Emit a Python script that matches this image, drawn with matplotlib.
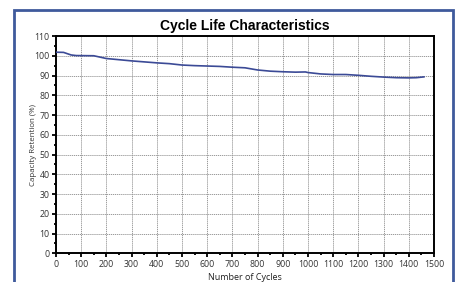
import matplotlib
matplotlib.use("Agg")
import matplotlib.pyplot as plt
from matplotlib.patches import Rectangle
from matplotlib.ticker import MultipleLocator

cycles = [0, 30, 60, 80, 150, 200, 250, 300, 350, 400, 450, 500, 550, 600, 650,
          700, 750, 800, 850, 900, 950, 990, 1000, 1050, 1100, 1150, 1200, 1250,
          1300, 1350, 1400, 1430, 1460]
retention = [101.8, 101.7, 100.4, 100.1, 100.0, 98.6, 98.0, 97.4, 96.9, 96.4, 96.0,
             95.3, 95.0, 94.8, 94.6, 94.2, 93.9, 92.8, 92.2, 91.9, 91.7, 91.8, 91.5,
             90.8, 90.5, 90.5, 90.1, 89.6, 89.2, 88.9, 88.8, 88.9, 89.3]
x_ticks = list(range(0, 1501, 100))
y_ticks = list(range(0, 111, 10))

W, H = 458, 282
fig = plt.figure(figsize=(W / 100, H / 100), dpi=100)
fig.patch.set_facecolor("white")

frame = Rectangle((14 / W, -0.05), (453 - 14) / W, (272 / H) + 0.05,
                  transform=fig.transFigure, fill=False, edgecolor="#3f5a9c",
                  linewidth=2.0, zorder=0)
fig.patches.append(frame)

ax = fig.add_axes([56 / W, 1 - 253.3 / H, (434 - 56) / W, (253.3 - 36) / H])
ax.plot(cycles, retention, color="#3b4a96", linewidth=1.2, zorder=3)

ax.set_xlim(0, 1500)
ax.set_ylim(0, 110)
ax.set_xticks(x_ticks)
ax.set_yticks(y_ticks)
ax.xaxis.set_minor_locator(MultipleLocator(50))
ax.yaxis.set_minor_locator(MultipleLocator(5))
ax.grid(True, which="major", color="#999999", linestyle=(0, (1.2, 0.8)), linewidth=0.7)

tick_font = {"family": "Open Sans", "size": 6.3, "color": "#333333"}
ax.set_xticklabels([str(t) for t in x_ticks], fontdict=tick_font)
ax.set_yticklabels([str(t) for t in y_ticks], fontdict=tick_font)
ax.tick_params(which="major", direction="out", length=3, width=1.3, pad=1.5)
ax.tick_params(which="minor", direction="out", length=1.5, width=1.3)

for s in ax.spines.values():
    s.set_linewidth(1.4)
    s.set_color("black")

ax.set_title("Cycle Life Characteristics", fontfamily="Liberation Sans",
             fontweight="bold", fontsize=10, pad=4)
ax.set_xlabel("Number of Cycles", fontfamily="Open Sans", fontsize=6.5,
              color="#222222", labelpad=3)
ax.set_ylabel("Capacity Retention (%)", fontfamily="Open Sans", fontsize=5.7,
              color="#333333")
ax.yaxis.set_label_coords(-0.05, 0.5)

fig.savefig("out.png", dpi=100)
